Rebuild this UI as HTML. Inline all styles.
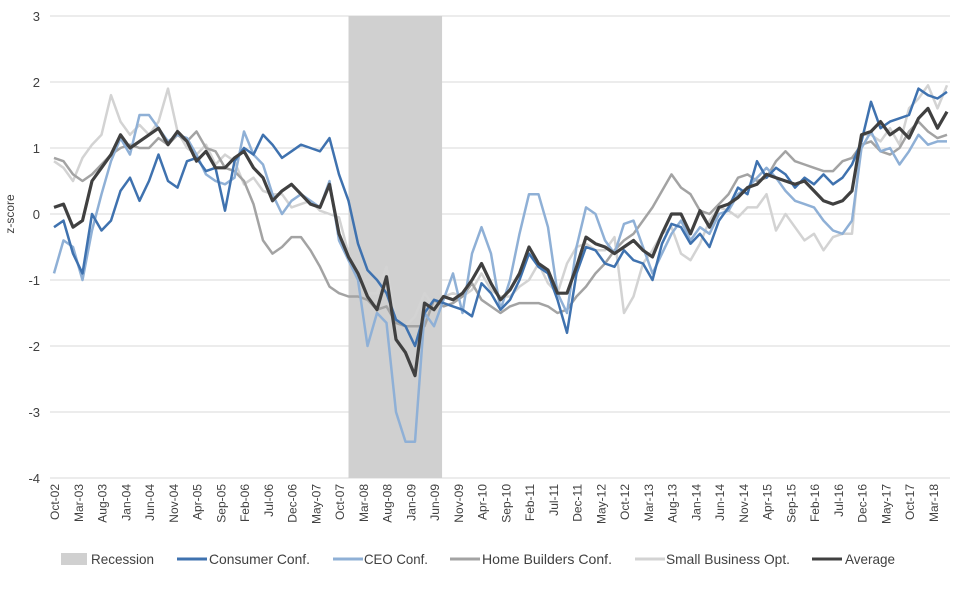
<!DOCTYPE html>
<html><head><meta charset="utf-8"><style>
body{margin:0;background:#fff;font-family:"Liberation Sans",sans-serif}
svg text{font-family:"Liberation Sans",sans-serif;fill:#404040}
</style></head><body>
<svg id="chart" width="977" height="586" xmlns="http://www.w3.org/2000/svg"></svg>
<script>
const tickLabels=["Oct-02","Mar-03","Aug-03","Jan-04","Jun-04","Nov-04","Apr-05","Sep-05","Feb-06","Jul-06","Dec-06","May-07","Oct-07","Mar-08","Aug-08","Jan-09","Jun-09","Nov-09","Apr-10","Sep-10","Feb-11","Jul-11","Dec-11","May-12","Oct-12","Mar-13","Aug-13","Jan-14","Jun-14","Nov-14","Apr-15","Sep-15","Feb-16","Jul-16","Dec-16","May-17","Oct-17","Mar-18"];
const yTicks=[3,2,1,0,-1,-2,-3,-4];
const recession=[62,81.7];
const consumer=[-0.2,-0.1,-0.6,-0.9,0.0,-0.25,-0.1,0.35,0.55,0.2,0.5,0.9,0.5,0.4,0.8,0.85,0.65,0.7,0.05,0.8,1.0,0.9,1.2,1.05,0.85,0.95,1.05,1.0,0.95,1.15,0.6,0.2,-0.45,-0.85,-1.0,-1.2,-1.6,-1.7,-2.0,-1.5,-1.3,-1.35,-1.4,-1.45,-1.55,-1.05,-1.2,-1.45,-1.3,-1.0,-0.6,-0.8,-0.9,-1.3,-1.8,-0.9,-0.5,-0.55,-0.75,-0.8,-0.55,-0.7,-0.75,-1.0,-0.45,-0.15,-0.2,-0.45,-0.3,-0.5,-0.1,0.1,0.4,0.3,0.8,0.55,0.7,0.6,0.4,0.55,0.45,0.6,0.45,0.55,0.75,1.1,1.7,1.3,1.4,1.45,1.5,1.9,1.8,1.75,1.85];
const ceo=[-0.9,-0.4,-0.5,-1.0,-0.25,0.3,0.8,1.15,0.9,1.5,1.5,1.3,1.1,1.2,1.15,0.9,0.6,0.5,0.45,0.55,1.25,0.9,0.75,0.3,0.0,0.2,0.3,0.2,0.1,0.5,-0.4,-0.7,-1.0,-2.0,-1.5,-1.65,-3.0,-3.45,-3.45,-1.5,-1.7,-1.3,-0.9,-1.5,-0.6,-0.2,-0.6,-1.45,-1.0,-0.3,0.3,0.3,-0.2,-1.2,-1.5,-0.5,0.1,0.0,-0.4,-0.6,-0.15,-0.1,-0.5,-0.9,-0.6,-0.3,-0.1,-0.4,-0.2,-0.3,0.0,0.05,0.3,0.4,0.55,0.7,0.55,0.35,0.2,0.15,0.1,-0.1,-0.25,-0.3,-0.1,1.0,1.25,0.95,1.0,0.75,0.95,1.2,1.05,1.1,1.1];
const home=[0.85,0.8,0.6,0.5,0.6,0.75,0.9,1.0,1.05,1.0,1.0,1.15,1.05,1.2,1.1,1.25,1.0,0.95,0.7,0.65,0.5,0.15,-0.4,-0.6,-0.5,-0.35,-0.35,-0.55,-0.8,-1.1,-1.2,-1.25,-1.25,-1.3,-1.45,-1.4,-1.65,-1.7,-1.7,-1.7,-1.3,-1.4,-1.35,-1.25,-1.05,-1.3,-1.4,-1.5,-1.4,-1.35,-1.35,-1.35,-1.4,-1.5,-1.45,-1.25,-1.1,-0.9,-0.75,-0.55,-0.4,-0.3,-0.1,0.1,0.35,0.6,0.4,0.3,0.05,0.0,0.15,0.3,0.55,0.6,0.5,0.55,0.8,0.95,0.8,0.75,0.7,0.65,0.65,0.8,0.85,1.05,1.1,0.95,0.9,1.0,1.25,1.4,1.25,1.15,1.2];
const small=[0.8,0.7,0.5,0.85,1.05,1.2,1.8,1.4,1.2,1.35,1.2,1.4,1.9,1.25,1.0,0.9,1.05,0.75,0.9,0.8,0.45,0.55,0.35,0.3,0.3,0.1,0.15,0.2,0.05,0.0,-0.05,-0.6,-1.0,-1.2,-1.2,-0.8,-1.6,-1.7,-1.55,-1.2,-1.4,-1.25,-1.2,-1.25,-1.15,-0.9,-1.15,-1.25,-1.25,-1.1,-1.0,-0.75,-1.05,-1.2,-0.75,-0.5,-0.45,-0.55,-0.55,-0.35,-1.5,-1.25,-0.75,-0.55,-0.3,-0.2,-0.6,-0.7,-0.45,-0.1,0.1,0.05,-0.05,0.1,0.1,0.3,-0.25,0.0,-0.2,-0.4,-0.3,-0.55,-0.35,-0.3,-0.3,1.2,1.2,1.1,1.3,1.05,1.6,1.75,1.95,1.6,1.95];
const average=[0.1,0.15,-0.2,-0.1,0.5,0.7,0.9,1.2,1.0,1.1,1.2,1.3,1.05,1.25,1.1,0.8,0.95,0.7,0.7,0.85,0.95,0.7,0.55,0.2,0.35,0.45,0.3,0.15,0.1,0.45,-0.3,-0.65,-0.9,-1.25,-1.45,-0.95,-1.9,-2.1,-2.45,-1.35,-1.45,-1.25,-1.3,-1.2,-1.0,-0.75,-1.05,-1.3,-1.15,-0.9,-0.5,-0.75,-0.85,-1.2,-1.2,-0.8,-0.35,-0.45,-0.5,-0.6,-0.5,-0.4,-0.55,-0.65,-0.3,0.0,0.0,-0.3,0.05,-0.2,0.1,0.15,0.25,0.4,0.45,0.6,0.55,0.5,0.45,0.5,0.35,0.2,0.15,0.2,0.35,1.2,1.25,1.4,1.2,1.3,1.15,1.45,1.6,1.3,1.55];

const NS="http://www.w3.org/2000/svg",svg=document.getElementById('chart');
const X0=54,DX=4.75,Y0=214,DY=66;
const xs=m=>X0+m*DX, ys=v=>Y0-v*DY;
function el(t,a,p){const e=document.createElementNS(NS,t);for(const k in a)e.setAttribute(k,a[k]);(p||svg).appendChild(e);return e;}

yTicks.forEach(v=>{
  const g=el('line',{x1:50,x2:950,y1:ys(v),y2:ys(v),stroke:'#d9d9d9','stroke-width':1});
  
  
  const t=el('text',{x:40,y:ys(v)+5,'text-anchor':'end','font-size':13});
  t.textContent=v;
  
  
});
const yt=el('text',{x:14,y:214,'text-anchor':'middle','font-size':12,transform:'rotate(-90 14 214)'});
yt.textContent='z-score';



const rr=el('rect',{x:xs(recession[0]),y:ys(3),width:xs(recession[1])-xs(recession[0]),height:ys(-4)-ys(3),fill:'#d0d0d0'});



tickLabels.forEach((l,i)=>{
  const x=xs(i*5)+5,y=484;
  const t=el('text',{x:x,y:y,'text-anchor':'end','font-size':12,transform:`rotate(-90 ${x} ${y})`});
  t.textContent=l;
  
  
});

function line(data,color,w,name){
  const pts=data.map((v,i)=>xs(i*2).toFixed(1)+','+ys(v).toFixed(1)).join(' ');
  const p=el('polyline',{points:pts,fill:'none',stroke:color,'stroke-width':w,'stroke-linejoin':'round'});
  
  
}
line(small,'#d3d3d3',2.5,'small-business-line');
line(home,'#a3a3a3',2.5,'home-builders-line');
line(ceo,'#8fb0d6',2.5,'ceo-conf-line');
line(consumer,'#3f72af',2.5,'consumer-conf-line');
line(average,'#404040',3.2,'average-line');

const legend=[['Recession',null,61,91,63],['Consumer Conf.','#3f72af',177,209,101],['CEO Conf.','#8fb0d6',333,364,64],['Home Builders Conf.','#a3a3a3',450,482,130],['Small Business Opt.','#d3d3d3',635,666,124],['Average','#404040',812,845,50]];
legend.forEach(([n,c,sx,tx,tw])=>{
  let s;
  if(!c) s=el('rect',{x:sx,y:553,width:26,height:12,fill:'#d0d0d0'});
  else s=el('line',{x1:sx,x2:sx+30,y1:559,y2:559,stroke:c,'stroke-width':3});
  
  
  const t=el('text',{x:tx,y:564,'font-size':14,textLength:tw,lengthAdjust:'spacingAndGlyphs'});
  t.textContent=n;
  
  
});
</script>
</body></html>
